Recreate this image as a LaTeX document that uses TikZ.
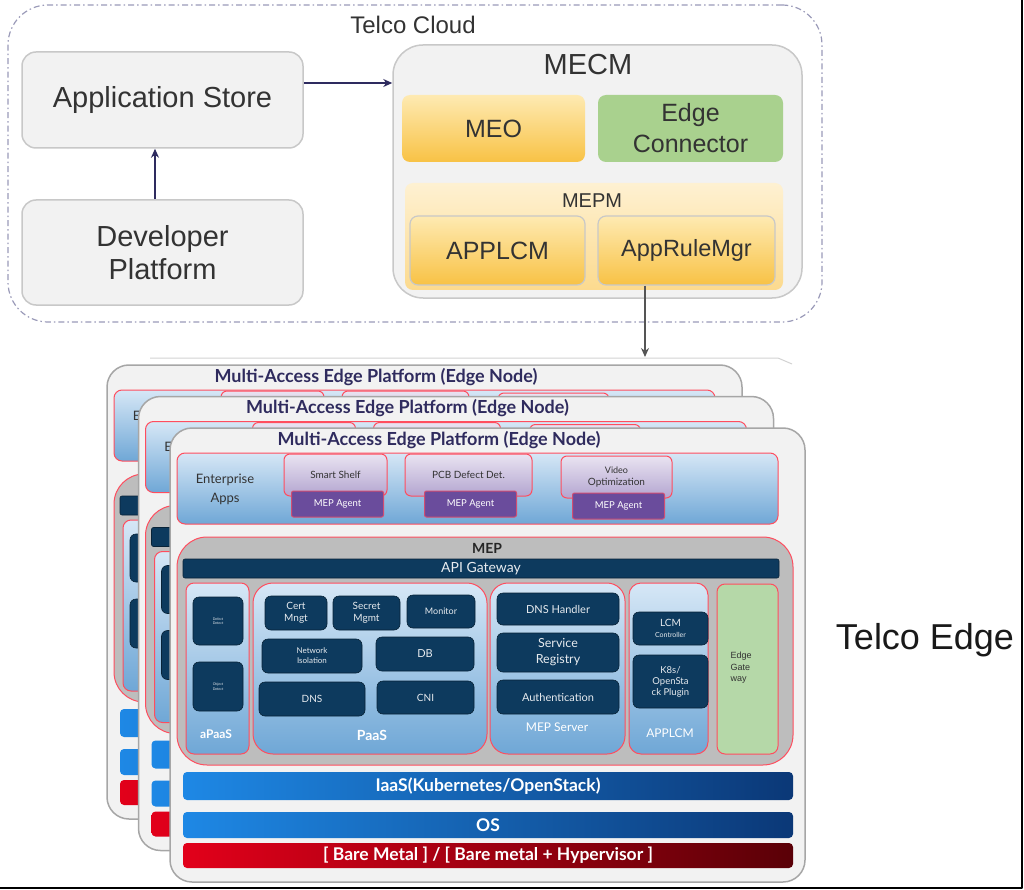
\documentclass[tikz,border=0pt]{standalone}
\usepackage{fontspec}
\setmainfont{Liberation Sans}
\newfontfamily\latofont{Lato}
\usetikzlibrary{arrows.meta}
\definecolor{cloudfill}{HTML}{F2F2F2}
\definecolor{cloudline}{HTML}{C8C8C8}
\definecolor{dashline}{HTML}{9A9AB8}
\definecolor{txtgray}{HTML}{333333}
\definecolor{arrnavy}{HTML}{2E2B5F}
\definecolor{downgray}{HTML}{555555}
\definecolor{orgtop}{HTML}{FEEAB2}
\definecolor{orgbot}{HTML}{F8C245}
\definecolor{mepmtop}{HTML}{FEF1D2}
\definecolor{mepmbot}{HTML}{FCDA8E}
\definecolor{greenbox}{HTML}{A9D18E}
\definecolor{cardfill}{HTML}{F2F2F2}
\definecolor{cardline}{HTML}{A6A6A6}
\definecolor{redline}{HTML}{FF4D5E}
\definecolor{bltop}{HTML}{D6E7F6}
\definecolor{blbot}{HTML}{6FA7D6}
\definecolor{apptop}{HTML}{E9E3F1}
\definecolor{appbot}{HTML}{B3A5D0}
\definecolor{agentcol}{HTML}{6A4C9C}
\definecolor{mepgray}{HTML}{BDBDBD}
\definecolor{navy}{HTML}{0D3A5E}
\definecolor{gwgreen}{HTML}{B5D8A8}
\definecolor{iaasL}{HTML}{1E88E5}
\definecolor{iaasR}{HTML}{0B3877}
\definecolor{bareL}{HTML}{E2001A}
\definecolor{bareR}{HTML}{5A0007}
\definecolor{titlecol}{HTML}{2F2B5E}
% texts of the back cards are hidden anyway
\newcommand{\fronttext}[1]{\ifnum\s=0 #1\fi}

\begin{document}
\begin{tikzpicture}
 [x=1pt, y=-1pt, line join=round,
  cloudbox/.style={draw=cloudline, fill=cloudfill, line width=1.5pt, rounded corners=14pt,
    inner sep=0pt, align=center, text=txtgray, font=\fontsize{29}{33}\selectfont},
  orgbox/.style={top color=orgtop, bottom color=orgbot, rounded corners=8pt, inner sep=0pt,
    align=center, text=txtgray, font=\fontsize{25}{31}\selectfont},
  arr/.style={-{Stealth[length=9pt,width=8pt]}, line width=1.5pt, draw=arrnavy},
  card/.style={draw=cardline, fill=cardfill, line width=1.5pt, rounded corners=22pt, inner sep=0pt},
  redbox/.style={draw=redline, line width=1pt, inner sep=0pt, align=center},
  bluebox/.style={redbox, top color=bltop, bottom color=blbot},
  appbox/.style={redbox, top color=apptop, bottom color=appbot, rounded corners=6pt,
    text=txtgray, font=\latofont\fontsize{10}{12}\selectfont},
  agent/.style={redbox, fill=agentcol, draw=redline!70!agentcol, rounded corners=2pt,
    text=white, font=\latofont\fontsize{9.5}{10}\selectfont},
  dbox/.style={fill=navy, draw=navy!60!black, line width=0.6pt, rounded corners=6pt,
    inner sep=0pt, align=center, text=white!90!navy},
  bar/.style={rounded corners=4pt, inner sep=0pt, text=white,
    font=\latofont\bfseries\fontsize{17.5}{18}\selectfont},
  lbl/.style={text=white, font=\latofont\bfseries\fontsize{12}{13}\selectfont}]

  \useasboundingbox (0,0) rectangle (1024,890);

  % telco cloud
  \node[draw=dashline, dash pattern=on 6pt off 3pt on 1.5pt off 3pt, line width=1.2pt,
    rounded corners=40pt, minimum width=814pt, minimum height=317pt, inner sep=0pt]
    (cloud) at (415,163.5) {};
  \node[text=txtgray, font=\fontsize{24}{28}\selectfont] (cloudlbl) at (413,25) {Telco Cloud};
  \node[cloudbox, minimum width=281pt, minimum height=96pt] (appstore) at (162.5,100) {Application Store};
  \node[cloudbox, minimum width=281pt, minimum height=105pt] (devplat) at (162.5,252.5) {Developer\\Platform};
  \node[cloudbox, rounded corners=30pt, minimum width=409pt, minimum height=253pt] (mecm) at (597.5,171.5) {};
  \node[text=txtgray, font=\fontsize{29}{33}\selectfont] (mecmlbl) at (588,65) {MECM};
  \node[orgbox, minimum width=183pt, minimum height=67pt] (meo) at (493.5,128.5) {MEO};
  \node[orgbox, top color=greenbox, bottom color=greenbox, minimum width=185pt, minimum height=67pt]
    (edgecon) at (690.5,128.5) {Edge\\Connector};
  \node[orgbox, top color=mepmtop, bottom color=mepmbot, minimum width=378pt, minimum height=107pt]
    (mepm) at (594,236.5) {};
  \node[text=txtgray, font=\fontsize{20}{24}\selectfont] (mepmlbl) at (592,201) {MEPM};
  \node[orgbox, draw=cloudline, line width=1.2pt, minimum width=175pt, minimum height=69pt]
    (applcm) at (497.5,250.5) {APPLCM};
  \node[orgbox, draw=cloudline, line width=1.2pt, minimum width=177pt, minimum height=69pt,
    font=\fontsize{23.5}{28}\selectfont] (arm) at (686.5,250.5) {AppRuleMgr};

  \draw[arr] ([xshift=-7.5pt]devplat.north) -- ([xshift=-7.5pt]appstore.south);
  \draw[arr] ([yshift=17pt]appstore.east) -- ([yshift=17pt]appstore.east -| mecm.west);
  \coordinate (stacktop) at (645,357);
  \draw[arr, draw=downgray, line width=1.2pt] (arm.south -| stacktop) -- (stacktop);

  \node[text=black!90, font=\fontsize{36}{40}\selectfont] (edgelbl) at (925,640) {Telco Edge};

  \draw[cardline!50, line width=1pt] (150,358) -- (778,358) -- (792,364);

  % edge nodes, back to front
  \foreach \s in {2,1,0} {
  \begin{scope}[shift={(-31.5*\s,-31.5*\s)}]
    \node[card, minimum width=635pt, minimum height=454pt] (card\s) at (487.5,655) {};
    \node[text=titlecol, font=\latofont\bfseries\fontsize{18}{20}\selectfont] (title\s) at (439,440)
      {Multi-Access Edge Platform (Edge Node)};
    \node[bluebox, rounded corners=8pt, minimum width=601pt, minimum height=71pt] (ent\s) at (477.5,488.5) {};
    \node[text=txtgray, align=center, font=\latofont\fontsize{13}{19}\selectfont] (entlbl\s) at (225,489)
      {Enterprise\\Apps};
    \foreach \n/\x/\y/\w/\txt in {shelf/335.5/479/103/{Smart Shelf}, pcb/468.5/479/127/{PCB Defect Det.},
        video/616.5/481/111/{\fontsize{9}{11}\selectfont Video\\Optimization}} {
      \node[appbox, minimum width=\w pt, minimum height=42pt] (\n\s) at (\x,\y-4) {\fronttext{\txt}};
      \node[agent, minimum width=92pt, minimum height=26pt] (\n agent\s) at (\x+2,\y+25) {\fronttext{MEP Agent}};
    }

    \node[redbox, fill=mepgray, rounded corners=30pt, minimum width=616pt, minimum height=228pt]
      (mep\s) at (485,651) {};
    \node[text=black!85, font=\latofont\bfseries\fontsize{14}{15}\selectfont] (meplbl\s) at (487,548) {\fronttext{MEP}};
    \node[dbox, rounded corners=2pt, minimum width=596pt, minimum height=19pt,
      font=\latofont\fontsize{14}{15}\selectfont] (api\s) at (481,568.5) {\fronttext{API Gateway}};

    \node[bluebox, rounded corners=8pt, minimum width=63pt, minimum height=171pt] (apaas\s) at (217.5,668.5) {};
    \node[bluebox, rounded corners=20pt, minimum width=234pt, minimum height=171pt] (paas\s) at (370,668.5) {};
    \node[bluebox, rounded corners=18pt, minimum width=135pt, minimum height=171pt] (mepsrv\s) at (557.5,668.5) {};
    \node[bluebox, rounded corners=12pt, minimum width=79pt, minimum height=171pt] (applc\s) at (668.5,668.5) {};
    \node[redbox, fill=gwgreen, rounded corners=8pt, minimum width=61pt, minimum height=170pt] (gw\s) at (747.5,669) {};
    \node[text=txtgray, align=left, font=\fontsize{9}{11.5}\selectfont] (gwlbl\s) at (741,668) {\fronttext{Edge\\Gate\\way}};

    \foreach \n/\x/\y/\w/\h/\fs/\bs/\txt in {
        dd/218/621/50/48/3.5/4.5/{Defect\\Detect}, od/218/686.5/50/49/3.5/4.5/{Object\\Detect},
        cert/296/613/62/34/10/12/{Cert\\Mngt}, secret/366.5/613/67/34/10/12/{Secret\\Mgmt},
        monitor/441/611.5/68/33/9/11/Monitor, netiso/312/656/100/34/8/10/{Network\\Isolation},
        db/425/654/98/34/11/12/DB, dns/312/699/106/34/10/12/DNS, cni/425.5/697.5/97/33/10/12/CNI,
        dnsh/558/609/122/32/11/12/{DNS Handler}, svcreg/558/652.5/122/39/12.5/16/{Service\\Registry},
        auth/558/697/122/34/11/12/Authentication, lcm/670.5/628.5/75/33/10/11/{LCM\\\scriptsize Controller},
        k8s/670.5/681.5/75/53/9.5/11/{K8s/\\OpenSta\\ck Plugin}} {
      \node[dbox, minimum width=\w pt, minimum height=\h pt, font=\latofont\fontsize{\fs}{\bs}\selectfont]
        (\n\s) at (\x,\y) {\fronttext{\txt}};
    }
    \node[lbl] (apaaslbl\s) at (216,734) {\fronttext{aPaaS}};
    \node[lbl, font=\latofont\bfseries\fontsize{14}{15}\selectfont] (paaslbl\s) at (372,735) {\fronttext{PaaS}};
    \node[lbl, font=\latofont\fontsize{12}{13}\selectfont] (mepsrvlbl\s) at (557,727) {\fronttext{MEP Server}};
    \node[lbl, font=\latofont\fontsize{12}{13}\selectfont] (applclbl\s) at (670,733) {\fronttext{APPLCM}};

    \node[bar, left color=iaasL, right color=iaasR, minimum width=610pt, minimum height=28pt]
      (iaas\s) at (488,786) {\fronttext{IaaS(Kubernetes/OpenStack)}};
    \node[bar, left color=iaasL, right color=iaasR, minimum width=610pt, minimum height=26pt]
      (os\s) at (488,825) {\fronttext{OS}};
    \node[bar, left color=bareL, right color=bareR, minimum width=610pt, minimum height=25pt]
      (bare\s) at (488,855.5) {\fronttext{[ Bare Metal ] / [ Bare metal + Hypervisor ]}};
  \end{scope}
  }

  \draw[line width=2pt] (0,888) -- (1022,888) -- (1022,0);
\end{tikzpicture}
\end{document}
